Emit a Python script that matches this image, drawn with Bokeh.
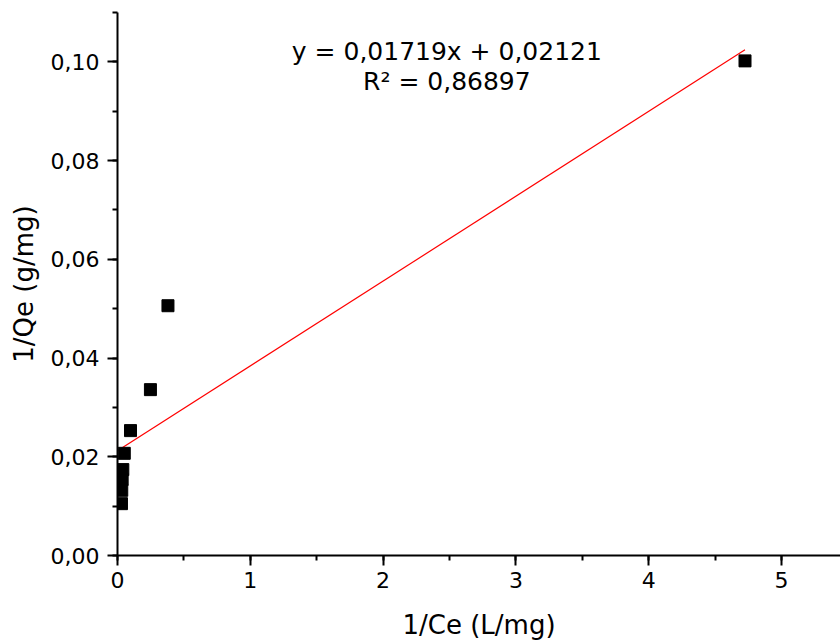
import numpy as np
from bokeh.plotting import figure
from bokeh.models import Range1d, SingleIntervalTicker, CustomJSTickFormatter, Label
from bokeh.embed import file_html
from bokeh.resources import INLINE

# data
inv_ce = [0.030, 0.032, 0.035, 0.040, 0.051, 0.098, 0.248, 0.380, 4.725]
inv_qe = [0.0105, 0.0132, 0.0154, 0.0174, 0.0207, 0.0253, 0.0336, 0.0506, 0.1002]
slope = 0.01719
intercept = 0.02121
eq_text = "y = 0,01719x + 0,02121"
r2_text = "R² = 0,86897"
x_title = "1/Ce (L/mg)"
y_title = "1/Qe (g/mg)"

FONT = "DejaVu Sans"

p = figure(width=840, height=643, output_backend="svg", toolbar_location=None,
           x_range=Range1d(0, 5.444), y_range=Range1d(0, 0.110),
           min_border_left=117, min_border_right=0, min_border_top=12, min_border_bottom=88)
p.outline_line_color = None
p.xgrid.visible = False
p.ygrid.visible = False
p.background_fill_color = "white"
p.border_fill_color = "white"

# fit line
fx = np.array([0.0, max(inv_ce)])
fy = intercept + slope * fx
p.line(fx, fy, line_color="#ff0000", line_width=1.2)

p.scatter(inv_ce, inv_qe, marker="square", size=12, fill_color="black", line_color="black")

for ax in (p.xaxis[0], p.yaxis[0]):
    ax.axis_line_width = 2
    ax.major_tick_line_width = 2
    ax.minor_tick_line_width = 2
    ax.major_tick_out = 10
    ax.major_tick_in = 0
    ax.minor_tick_out = 5
    ax.minor_tick_in = 0
    ax.major_label_text_font = FONT
    ax.major_label_text_font_size = "22px"
    ax.major_label_text_color = "black"
    ax.axis_label_text_font = FONT
    ax.axis_label_text_font_size = "26px"
    ax.axis_label_text_font_style = "normal"
    ax.axis_label_text_color = "black"

p.xaxis.ticker = SingleIntervalTicker(interval=1, num_minor_ticks=2)
p.yaxis.ticker = SingleIntervalTicker(interval=0.02, num_minor_ticks=2)
p.yaxis.formatter = CustomJSTickFormatter(code="return tick.toFixed(2).replace('.', ',');")
p.xaxis.axis_label = x_title
p.yaxis.axis_label = y_title
p.xaxis.major_label_standoff = 6
p.yaxis.major_label_standoff = 8
p.xaxis.axis_label_standoff = 19
p.yaxis.axis_label_standoff = 9

p.add_layout(Label(x=2.48, y=0.1021, text=eq_text, text_align="center", text_baseline="middle",
                   text_font=FONT, text_font_size="25px", text_color="black"))
p.add_layout(Label(x=2.48, y=0.0961, text=r2_text, text_align="center", text_baseline="middle",
                   text_font=FONT, text_font_size="25px", text_color="black"))

open("out.html", "w").write(file_html(p, INLINE))
